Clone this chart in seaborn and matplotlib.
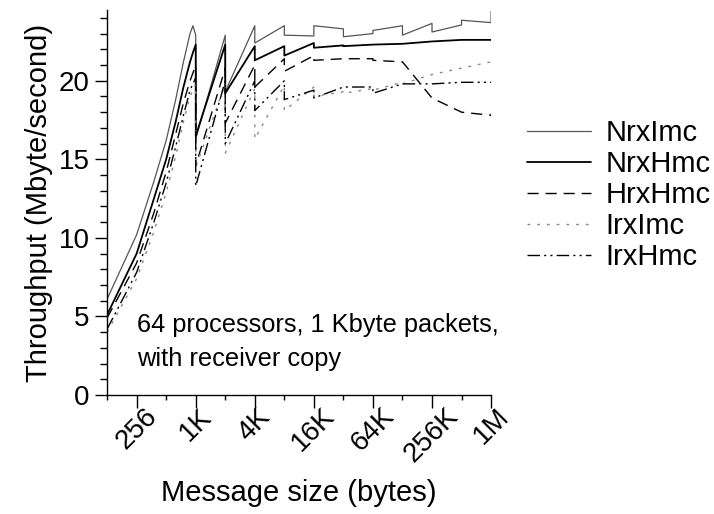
import numpy as np
import pandas as pd
import matplotlib
matplotlib.use('Agg')
import matplotlib.pyplot as plt
import seaborn as sns
from matplotlib.ticker import FixedLocator, NullFormatter

# message sizes (bytes); the "+1" points give the vertical drops at packet boundaries
sizes = [128, 256, 384, 512, 640, 768, 896, 960, 1024, 1025,
         2048, 2049, 4096, 4097, 8192, 8193, 16384, 16385,
         32768, 32769, 65536, 65537, 131072, 131073,
         262144, 262145, 524288, 524289, 1048576, 1048577]

nrx_imc = [6.1, 10.2, 13.6, 16.2, 18.8, 21.2, 23.0, 23.5, 22.9, 16.3,
           22.9, 19.3, 23.5, 22.4, 23.5, 22.9, 22.85, 23.5,
           23.3, 22.8, 23.0, 23.2, 23.5, 22.9,
           23.65, 23.1, 23.55, 23.85, 23.7, 24.4]
nrx_hmc = [5.1, 9.0, 12.5, 15.0, 17.4, 19.6, 21.2, 21.8, 22.3, 16.5,
           22.3, 19.2, 22.2, 21.3, 22.2, 21.6, 22.4, 22.1,
           22.25, 22.2, 22.3, 22.3, 22.35, 22.35,
           22.5, 22.5, 22.6, 22.6, 22.6, 22.6]
hrx_hmc = [4.9, 8.4, 11.6, 14.2, 16.6, 18.6, 20.0, 20.5, 21.0, 14.6,
           20.8, 17.3, 21.0, 19.6, 21.4, 20.6, 21.6, 21.3,
           21.4, 21.4, 21.4, 21.3, 21.2, 21.2,
           18.9, 18.9, 18.0, 18.0, 17.8, 17.9]
irx_imc = [4.0, 7.4, 10.4, 12.9, 15.2, 17.4, 19.0, 19.4, 19.8, 14.5,
           19.8, 15.4, 19.5, 16.3, 19.7, 18.1, 19.6, 19.0,
           19.3, 19.2, 19.5, 19.4, 19.9, 19.8,
           20.4, 20.4, 20.8, 20.8, 21.2, 21.2]
irx_hmc = [4.2, 7.8, 11.0, 13.5, 15.8, 17.8, 19.4, 19.8, 20.2, 13.3,
           20.0, 16.0, 20.0, 18.1, 20.0, 18.8, 19.4, 18.9,
           19.6, 19.6, 19.6, 19.2, 19.8, 19.8,
           19.8, 19.8, 19.9, 19.9, 19.9, 19.9]

xtick_pos = [256, 1024, 4096, 16384, 65536, 262144, 1048576]
xtick_labels = ['256', '1K', '4K', '16K', '64K', '256K', '1M']
xminor_pos = [128, 512, 2048, 8192, 32768, 131072, 524288]

sns.set_style('ticks')
plt.rcParams['font.family'] = ['Liberation Sans', 'DejaVu Sans']
plt.rcParams['text.color'] = 'black'
plt.rcParams['axes.labelcolor'] = 'black'
plt.rcParams['xtick.color'] = 'black'
plt.rcParams['ytick.color'] = 'black'

fig = plt.figure(figsize=(7.14, 5.14), dpi=100)
ax = fig.add_axes([0.15, 0.2315, 0.5378, 0.749])

series = [
    ('NrxImc', nrx_imc, '#555555', 0.9, '-'),
    ('NrxHmc', nrx_hmc, 'black', 1.3, '-'),
    ('HrxHmc', hrx_hmc, 'black', 1.0, (0, (8, 5))),
    ('IrxImc', irx_imc, '#888888', 1.0, (0, (2, 5))),
    ('IrxHmc', irx_hmc, 'black', 1.0, (0, (9, 3, 1.5, 3, 1.5, 3))),
]
for name, vals, color, lw, ls in series:
    sns.lineplot(x=sizes, y=vals, ax=ax, color=color, linewidth=lw,
                 linestyle=ls, estimator=None, sort=False, label=name)

ax.set_xscale('log', base=2)
ax.set_xlim(128, 1048577)
ax.set_ylim(0, 24.5)
ax.set_xticks(xtick_pos)
ax.set_xticklabels(xtick_labels)
ax.xaxis.set_minor_locator(FixedLocator(xminor_pos))
ax.xaxis.set_minor_formatter(NullFormatter())
ax.set_yticks([0, 5, 10, 15, 20])
ax.yaxis.set_minor_locator(FixedLocator(list(range(0, 25))))

ax.tick_params(axis='x', which='major', length=9, width=1, labelsize=20,
               labelrotation=45, pad=-3)
ax.tick_params(axis='x', which='minor', length=3.5, width=1)
ax.tick_params(axis='y', which='major', length=9, width=1, labelsize=20)
ax.tick_params(axis='y', which='minor', length=5, width=1)

for sp in ['top', 'right']:
    ax.spines[sp].set_visible(False)
for sp in ['left', 'bottom']:
    ax.spines[sp].set_color('black')
    ax.spines[sp].set_linewidth(1)

ax.set_xlabel('Message size (bytes)', fontsize=21, labelpad=8)
ax.set_ylabel('Throughput (Mbyte/second)', fontsize=21)

ax.text(0.078, 0.212, '64 processors, 1 Kbyte packets,\nwith receiver copy',
        transform=ax.transAxes, fontsize=18.3, va='top', ha='left',
        linespacing=1.5)

ax.legend(loc='upper left', bbox_to_anchor=(0.738, 0.768),
          bbox_transform=fig.transFigure, frameon=False, fontsize=21,
          handlelength=2.2, handletextpad=0.5, labelspacing=0.1,
          borderpad=0, borderaxespad=0)

fig.savefig('out.png', dpi=100)
